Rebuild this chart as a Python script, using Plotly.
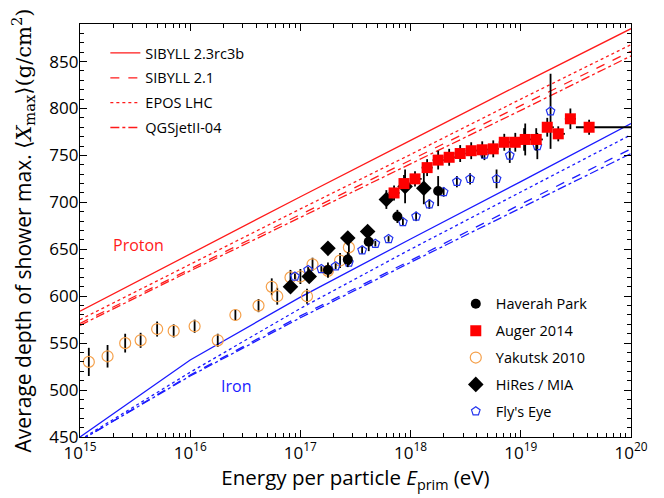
import numpy as np
import plotly.graph_objects as go

# ---------------- model predictions (log10 E, <Xmax> g/cm^2) ----------------
model_logE = [15, 16, 17, 18, 19, 20]
p_sib23 = [584, 645, 706, 766, 826, 885]
p_sib21 = [571, 629, 687, 745, 803, 861]
p_epos = [575, 634, 693, 751, 810, 868]
p_qgs = [569, 627, 684, 741, 798, 856]
fe_sib23 = [450, 532, 599, 661, 722, 784]
fe_sib21 = [446, 516, 579, 638, 698, 757]
fe_epos = [447, 519, 587, 650, 711, 772]
fe_qgs = [446, 515, 577, 636, 694, 752]
model_names = ["SIBYLL 2.3rc3b", "SIBYLL 2.1", "EPOS LHC", "QGSjetII-04"]

# ---------------- data ----------------
hp_logE = [17.25, 17.43, 17.62, 17.88, 18.25]
hp_x = [628, 639, 658, 685, 712]
hp_err = [8, 8, 10, 7, 16]

auger_logE = [17.85, 17.94, 18.04, 18.15, 18.25, 18.35, 18.45, 18.55, 18.65,
              18.75, 18.85, 18.95, 19.04, 19.14, 19.24, 19.34, 19.45, 19.62]
auger_x = [710, 720, 725, 737, 745, 748, 752, 755, 756, 757, 764, 764, 767,
           767, 780, 773, 789, 780]
auger_err = [8, 9, 8, 9, 10, 9, 9, 9, 9, 9, 9, 10, 17, 12, 10, 8, 11, 8]
auger_bin_lo = [17.80, 17.90, 18.00, 18.10, 18.20, 18.30, 18.40, 18.50, 18.60,
                18.70, 18.80, 18.90, 19.00, 19.10, 19.20, 19.30, 19.40, 19.50]
auger_bin_hi = [17.90, 18.00, 18.10, 18.20, 18.30, 18.40, 18.50, 18.60, 18.70,
                18.80, 18.90, 19.00, 19.10, 19.20, 19.30, 19.40, 19.50, 20.00]

yak_logE = [15.08, 15.25, 15.41, 15.55, 15.70, 15.85, 16.04, 16.25, 16.41,
            16.62, 16.74, 16.79, 16.91, 17.00, 17.06, 17.11, 17.25, 17.36, 17.44]
yak_x = [530, 536, 550, 553, 565, 563, 568, 553, 580, 590, 610, 600, 620, 621,
         600, 634, 627, 638, 652]
yak_err = [15, 12, 10, 8, 8, 7, 7, 7, 6, 7, 9, 9, 8, 8, 8, 7, 7, 8, 8]

hires_logE = [16.91, 17.08, 17.25, 17.43, 17.61, 17.78, 17.95, 18.12]
hires_x = [610, 621, 651, 662, 669, 703, 717, 715]
hires_err = [5, 5, 5, 5, 6, 10, 18, 17]

fly_logE = [16.95, 17.07, 17.19, 17.32, 17.44, 17.56, 17.68, 17.80, 17.93, 18.05,
            18.17, 18.30, 18.42, 18.54, 18.67, 18.78, 18.90, 19.03, 19.15, 19.27]
fly_x = [621, 628, 629, 632, 636, 649, 656, 661, 679, 685, 698, 711, 722, 725,
         751, 725, 750, 767, 760, 797]
fly_err = [3, 3, 3, 3, 3, 4, 3, 3, 4, 5, 5, 5, 6, 6, 6, 10, 8, 12, 14, 40]

x_tick_exp = [15, 16, 17, 18, 19, 20]
y_ticks = [450, 500, 550, 600, 650, 700, 750, 800, 850]


def E(l):
    return [10.0 ** v for v in l]


fig = go.Figure()

dashes = ["solid", "dash", "dot", "dashdot"]
proton = [p_sib23, p_sib21, p_epos, p_qgs]
iron = [fe_sib23, fe_sib21, fe_epos, fe_qgs]
for i, name in enumerate(model_names):
    fig.add_trace(go.Scatter(x=E(model_logE), y=proton[i], mode="lines", name=name,
                             line=dict(color="#ff1a1a", width=1.3, dash=dashes[i]),
                             legend="legend", legendgroup=f"m{i}", showlegend=True,
                             legendrank=i + 1))
for i, name in enumerate(model_names):
    fig.add_trace(go.Scatter(x=E(model_logE), y=iron[i], mode="lines", name=name,
                             line=dict(color="#1a1aff", width=1.3, dash=dashes[i]),
                             legend="legend", legendgroup=f"m{i}", showlegend=False))

eb = dict(type="data", color="black", thickness=1.8, width=0)

fig.add_trace(go.Scatter(
    x=E(yak_logE), y=yak_x, mode="markers", name="Yakutsk 2010",
    marker=dict(symbol="circle-open", size=11, color="#f5a04a", line=dict(width=1.2)),
    error_y=dict(array=yak_err, **eb), legend="legend2", legendgroup="d3", legendrank=3))
fig.add_trace(go.Scatter(
    x=E(fly_logE), y=fly_x, mode="markers", name="Fly's Eye",
    marker=dict(symbol="pentagon-open", size=9, color="#2233ee", line=dict(width=1.2)),
    error_y=dict(array=fly_err, **eb), legend="legend2", legendgroup="d5", legendrank=5))
fig.add_trace(go.Scatter(
    x=E(hp_logE), y=hp_x, mode="markers", name="Haverah Park",
    marker=dict(symbol="circle", size=10, color="black"),
    error_y=dict(array=hp_err, **eb), legend="legend2", legendgroup="d1", legendrank=1))
fig.add_trace(go.Scatter(
    x=E(hires_logE), y=hires_x, mode="markers", name="HiRes / MIA",
    marker=dict(symbol="diamond", size=12, color="black"),
    error_y=dict(array=hires_err, **eb), legend="legend2", legendgroup="d4", legendrank=4))
ax_e = E(auger_logE)
fig.add_trace(go.Scatter(
    x=ax_e, y=auger_x, mode="markers", name="Auger 2014",
    marker=dict(symbol="square", size=11, color="#ff0000"),
    error_y=dict(array=auger_err, **eb),
    error_x=dict(type="data", symmetric=False, color="black", thickness=1.8, width=0,
                 array=[10.0 ** h - e for h, e in zip(auger_bin_hi, ax_e)],
                 arrayminus=[e - 10.0 ** l for l, e in zip(auger_bin_lo, ax_e)]),
    legend="legend2", legendgroup="d2", legendrank=2))

fig.add_annotation(x=15.53, y=655, text="Proton", showarrow=False,
                   font=dict(color="#ff1a1a", size=16), xref="x", yref="y")
fig.add_annotation(x=16.42, y=504, text="Iron", showarrow=False,
                   font=dict(color="#1a1aff", size=16), xref="x", yref="y")

fig.update_xaxes(
    type="log", range=[15, 20], automargin=False,
    tickvals=[10.0 ** e for e in x_tick_exp],
    ticktext=[f"10<sup>{e}</sup>" for e in x_tick_exp],
    ticks="inside", ticklen=7, tickwidth=1, tickcolor="black",
    minor=dict(ticks="inside", ticklen=3.5, tickcolor="black",
               tickvals=[m * 10.0 ** e for e in x_tick_exp[:-1] for m in range(2, 10)]),
    showline=True, linecolor="black", linewidth=1.2, mirror="allticks",
    showgrid=False, zeroline=False, tickfont=dict(size=17),
    title=dict(text="Energy per particle <i>E</i><sub>prim</sub> (eV)", font=dict(size=20.5), standoff=4))
fig.update_yaxes(
    range=[450, 890], tickvals=y_ticks, automargin=False,
    ticks="inside", ticklen=7, tickwidth=1, tickcolor="black", ticklabelstandoff=-3,
    minor=dict(ticks="inside", ticklen=3.5, tickcolor="black", dtick=10, tick0=450),
    showline=True, linecolor="black", linewidth=1.2, mirror="allticks",
    showgrid=False, zeroline=False, tickfont=dict(size=17),
    title=dict(text="Average depth of shower max. <span style='font-family:DejaVu Serif'>⟨<i>X</i><sub>max</sub>⟩(g/cm<sup>2</sup>)</span>",
               font=dict(size=21), standoff=12))

# page body adds an 8px offset; figure is sized so the plot lands where the reference has it
fig.update_layout(
    width=656, height=490, margin=dict(l=72, r=33, t=16, b=61),
    plot_bgcolor="white", paper_bgcolor="white",
    font=dict(family="Open Sans", size=16, color="black"),
    legend=dict(x=0.046, y=0.9685, xanchor="left", yanchor="top", bgcolor="rgba(0,0,0,0)",
                font=dict(size=14.5), tracegroupgap=3, traceorder="grouped"),
    legend2=dict(x=0.682, y=0.361, xanchor="left", yanchor="top", bgcolor="rgba(0,0,0,0)",
                 font=dict(size=14.5), tracegroupgap=5, traceorder="grouped"),
)

fig.write_html("out.html")
